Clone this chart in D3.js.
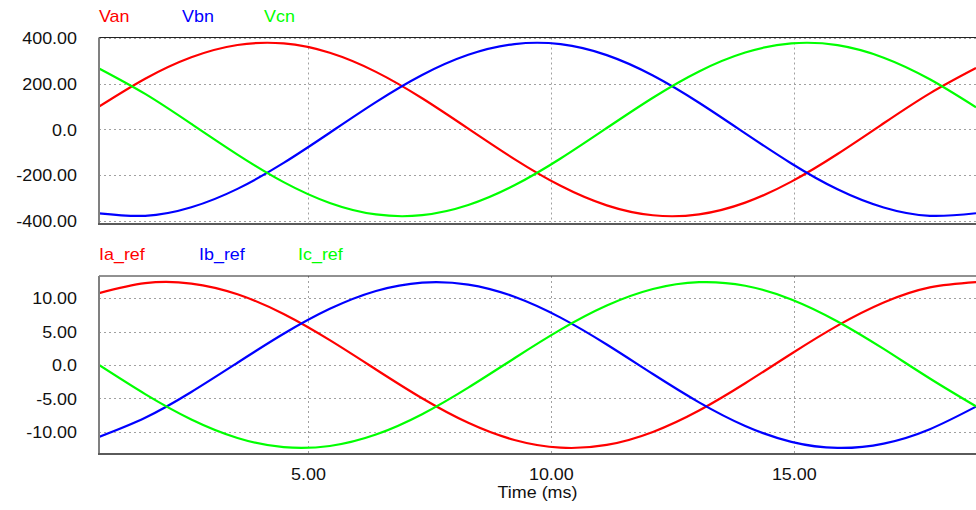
<!DOCTYPE html>
<html>
<head>
<meta charset="utf-8">
<script src="https://cdn.jsdelivr.net/npm/d3@7"></script>
<style>
  html, body { margin: 0; padding: 0; background: #fff; }
  svg { display: block; font-family: "Liberation Sans", Arial, sans-serif; }
</style>
</head>
<body>
<svg id="chart" width="976" height="510"></svg>
<script>
// Sample times (ms)
const time = [0.7, 1.65, 2.6, 3.55, 4.5, 5.45, 6.4, 7.35, 8.3, 9.25,
              10.2, 11.15, 12.1, 13.05, 14.0, 14.95, 15.9, 16.85, 17.8, 18.75];

// Phase voltages (V)
const Van = [100.0, 222.2, 316.2, 370.0, 376.9, 336.0, 252.4, 136.8, 3.8, -129.6,
             -246.6, -332.3, -375.8, -371.7, -320.3, -228.4, -107.4, 27.2, 158.3, 269.3];
const Vbn = [-367.5, -378.1, -340.7, -260.1, -146.4, -14.2, 119.8, 238.6, 327.1, 374.2,
             373.7, 325.8, 236.6, 117.3, -16.8, -148.8, -262.0, -341.8, -378.3, -366.8];
const Vcn = [267.5, 155.9, 24.5, -109.9, -230.5, -321.8, -372.2, -375.4, -331.0, -244.6,
             -127.1, 6.5, 139.3, 254.4, 337.2, 377.2, 369.4, 314.7, 220.0, 97.4];

// Reference currents (A)
const Ia_ref = [10.74, 12.23, 12.17, 10.57, 7.62, 3.71, -0.67, -4.97, -8.64, -11.21,
                -12.36, -11.94, -10.00, -6.80, -2.73, 1.68, 5.88, 9.34, 11.60, 12.40];
const Ib_ref = [-10.74, -7.88, -4.03, 0.34, 4.66, 8.39, 11.06, 12.32, 12.02, 10.20,
                7.08, 3.06, -1.35, -5.58, -9.11, -11.48, -12.39, -11.74, -9.59, -6.22];
const Ic_ref = [0.00, -4.35, -8.14, -10.90, -12.28, -12.10, -10.39, -7.35, -3.38, 1.01,
                5.28, 8.88, 11.35, 12.38, 11.84, 9.80, 6.51, 2.40, -2.02, -6.18];

// Axis ticks and their labels
const vTicks = [400, 200, 0, -200, -400];
const vTickLabels = ["400.00", "200.00", "0.0", "-200.00", "-400.00"];
const iTicks = [10, 5, 0, -5, -10];
const iTickLabels = ["10.00", "5.00", "0.0", "-5.00", "-10.00"];
const tTicks = [5, 10, 15];
const tTickLabels = ["5.00", "10.00", "15.00"];

const seriesColors = ["#ff0000", "#0000ff", "#00ff00"];

const svg = d3.select("#chart");
const left = 99, right = 976;
const SX = 1.12; // horizontal text stretch

const x = d3.scaleLinear().domain([0.7, 18.75]).range([left, right]);

function drawPanel(cfg) {
  const { y, top, bottom, ticks, labels, series, names, legendY, legendX } = cfg;
  const g = svg.append("g");

  // grid
  g.append("g").selectAll("line.h").data(ticks).join("line")
    .attr("x1", left).attr("x2", right)
    .attr("y1", d => Math.round(y(d)) + 0.5).attr("y2", d => Math.round(y(d)) + 0.5)
    .attr("stroke", "#a0a0a0").attr("stroke-width", 1).attr("stroke-dasharray", "2,3");
  g.append("g").selectAll("line.v").data(tTicks).join("line")
    .attr("x1", d => Math.round(x(d)) + 0.5).attr("x2", d => Math.round(x(d)) + 0.5)
    .attr("y1", top).attr("y2", bottom)
    .attr("stroke", "#a0a0a0").attr("stroke-width", 1).attr("stroke-dasharray", "2,3");

  // y axis labels
  const ax = d3.axisLeft(y).tickValues(ticks)
    .tickFormat((d, i) => labels[i]).tickSize(0).tickPadding(0);
  const axg = g.append("g").attr("transform", `translate(${left},0)`).call(ax);
  axg.select(".domain").remove();
  axg.selectAll("text")
    .attr("x", -22 / SX).attr("dy", "0.36em")
    .attr("transform", `scale(${SX},1)`)
    .attr("font-size", 16).attr("font-family", "Liberation Sans, Arial, sans-serif")
    .attr("fill", "#111");

  // curves
  const clipId = "clip" + Math.round(top);
  svg.append("clipPath").attr("id", clipId).append("rect")
    .attr("x", left).attr("y", top).attr("width", right - left).attr("height", bottom - top);
  const line = d3.line().x((d, i) => x(time[i])).y(d => y(d)).curve(d3.curveNatural);
  g.append("g").attr("clip-path", `url(#${clipId})`)
    .selectAll("path").data(series).join("path")
    .attr("d", d => line(d))
    .attr("fill", "none")
    .attr("stroke", (d, i) => seriesColors[i])
    .attr("stroke-width", 2.2);

  // frame
  g.append("line").attr("x1", left).attr("x2", right).attr("y1", top).attr("y2", top)
    .attr("stroke", "#222").attr("stroke-width", 1);
  g.append("line").attr("x1", left).attr("x2", left).attr("y1", top).attr("y2", bottom + 1)
    .attr("stroke", "#808080").attr("stroke-width", 2);
  g.append("line").attr("x1", left - 1).attr("x2", right).attr("y1", bottom).attr("y2", bottom)
    .attr("stroke", "#5a5a5a").attr("stroke-width", 2);

  // legend
  g.append("g").selectAll("text").data(names).join("text")
    .attr("transform", (d, i) => `translate(${legendX[i]},${legendY}) scale(${SX},1)`)
    .attr("font-size", 16)
    .attr("fill", (d, i) => seriesColors[i])
    .text(d => d);
}

drawPanel({
  y: d3.scaleLinear().domain([-414, 403]).range([224, 37.5]),
  top: 37.5, bottom: 224,
  ticks: vTicks, labels: vTickLabels,
  series: [Van, Vbn, Vcn], names: ["Van", "Vbn", "Vcn"],
  legendY: 22, legendX: [99, 182, 264]
});

drawPanel({
  y: d3.scaleLinear().domain([-13.3, 13.3]).range([454, 276]),
  top: 276, bottom: 454,
  ticks: iTicks, labels: iTickLabels,
  series: [Ia_ref, Ib_ref, Ic_ref], names: ["Ia_ref", "Ib_ref", "Ic_ref"],
  legendY: 260, legendX: [99, 199, 298]
});

// time axis
const xAxis = d3.axisBottom(x).tickValues(tTicks)
  .tickFormat((d, i) => tTickLabels[i]).tickSize(0).tickPadding(0);
const xg = svg.append("g").attr("transform", "translate(0,454)").call(xAxis);
xg.select(".domain").remove();
xg.selectAll(".tick text")
  .attr("y", 0).attr("dy", 0)
  .attr("transform", `translate(0,26) scale(${SX},1)`)
  .attr("x", function() { return 0; })
  .attr("font-size", 16).attr("font-family", "Liberation Sans, Arial, sans-serif")
  .attr("fill", "#111");

svg.append("text")
  .attr("transform", `translate(${(left + right) / 2},498) scale(${SX},1)`)
  .attr("text-anchor", "middle")
  .attr("font-size", 16)
  .attr("fill", "#111")
  .text("Time (ms)");
</script>
</body>
</html>
